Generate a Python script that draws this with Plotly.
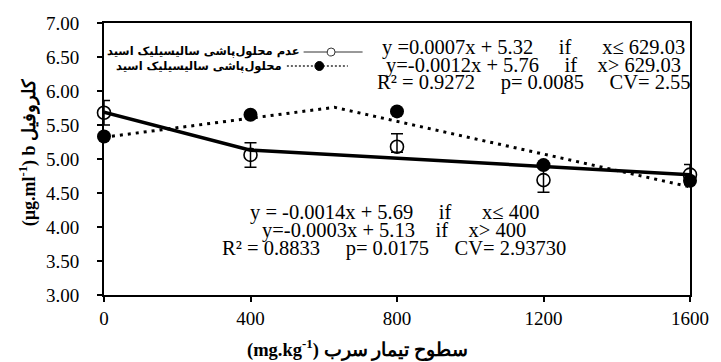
import plotly.graph_objects as go

# ---- data ----
lead_levels = [0, 400, 800, 1200, 1600]
no_sa_mean = [5.68, 5.06, 5.18, 4.69, 4.77]
no_sa_err_plus = [0.18, 0.18, 0.19, 0.18, 0.15]
no_sa_err_minus = [0.18, 0.18, 0.08, 0.18, 0.15]
sa_mean = [5.33, 5.65, 5.70, 4.91, 4.68]

fit_no_sa_x = [0, 400, 1600]
fit_no_sa_y = [5.69, 5.13, 4.77]
fit_sa_x = [0, 629.03, 1600]
fit_sa_y = [5.32, 5.76, 4.59]

x_ticks = [0, 400, 800, 1200, 1600]
y_ticks = [3.0, 3.5, 4.0, 4.5, 5.0, 5.5, 6.0, 6.5, 7.0]

legend_labels = ["عدم محلول‌پاشی سالیسیلیک اسید", "محلول‌پاشی سالیسیلیک اسید"]
eq_sa = ["y =0.0007x + 5.32{s}if{s2}x≤ 629.03",
         "y=-0.0012x + 5.76{s}if{s3}x> 629.03",
         "R² = 0.9272{s}p= 0.0085{s}CV= 2.55"]
eq_no_sa = ["y = -0.0014x + 5.69{s}if{s2}x≤ 400",
            "y=-0.0003x + 5.13{s3}if{s3}x> 400",
            "R² = 0.8833{s}p= 0.0175{s}CV= 2.93730"]

W, H = 721, 362
L, R, T, B = 104, 21, 23, 67
PW, PH = W - L - R, H - T - B


def px(x):
    return (x - L) / PW


def py(y):
    return (H - B - y) / PH


SERIF = "Liberation Serif"
ARAB = "DejaVu Sans"
NB = "\u00a0"

fig = go.Figure()

fig.add_trace(go.Scatter(x=fit_no_sa_x, y=fit_no_sa_y, mode="lines",
                         line=dict(color="black", width=3.5), cliponaxis=False,
                         showlegend=False, hoverinfo="skip"))
fig.add_trace(go.Scatter(x=fit_sa_x, y=fit_sa_y, mode="lines",
                         line=dict(color="black", width=3, dash="3px,5px"),
                         cliponaxis=False, showlegend=False, hoverinfo="skip"))
fig.add_trace(go.Scatter(x=lead_levels, y=no_sa_mean, mode="markers",
                         marker=dict(symbol="circle-open", size=13, color="black",
                                     line=dict(width=1.6, color="black")),
                         error_y=dict(type="data", symmetric=False, array=no_sa_err_plus,
                                      arrayminus=no_sa_err_minus, color="black",
                                      thickness=1.5, width=6),
                         cliponaxis=False, showlegend=False))
fig.add_trace(go.Scatter(x=lead_levels, y=sa_mean, mode="markers",
                         marker=dict(symbol="circle", size=14, color="black"),
                         cliponaxis=False, showlegend=False))

axis_common = dict(showline=True, linecolor="black", linewidth=2, mirror=True,
                   ticks="outside", ticklen=5, tickwidth=1.5, tickcolor="black",
                   showgrid=False, zeroline=False,
                   tickfont=dict(family=SERIF, size=19, color="black"))

fig.update_xaxes(range=[0, 1600], tickvals=x_ticks, ticktext=[str(v) for v in x_ticks],
                 ticklabelstandoff=0, **axis_common)
fig.update_yaxes(range=[3, 7], tickvals=y_ticks, ticktext=[f"{v:.2f}" for v in y_ticks],
                 ticklabelstandoff=14, **axis_common)

annotations = []
EQ_SIZE = 20.5
up_y = [47, 65, 82]
for txt, yy in zip(eq_sa, up_y):
    t = txt.format(s=NB * 5, s2=NB * 6, s3=NB * 4)
    annotations.append(dict(x=px(541), y=py(yy), xref="paper", yref="paper", text=t,
                            showarrow=False, xanchor="center", yanchor="middle",
                            font=dict(family=SERIF, size=EQ_SIZE, color="black")))
lo_y = [212, 230, 248]
for txt, yy in zip(eq_no_sa, lo_y):
    t = txt.format(s=NB * 5, s2=NB * 6, s3=NB * 4)
    annotations.append(dict(x=px(399), y=py(yy), xref="paper", yref="paper", text=t,
                            showarrow=False, xanchor="center", yanchor="middle",
                            font=dict(family=SERIF, size=EQ_SIZE, color="black")))

# legend texts
annotations.append(dict(x=px(305), y=py(52), xref="paper", yref="paper", text=legend_labels[0],
                        showarrow=False, xanchor="right", yanchor="middle",
                        font=dict(family=ARAB, size=11.5, color="black", weight="bold")))
annotations.append(dict(x=px(287), y=py(66), xref="paper", yref="paper", text=legend_labels[1],
                        showarrow=False, xanchor="right", yanchor="middle",
                        font=dict(family=ARAB, size=11.5, color="black", weight="bold")))

# axis titles
annotations.append(dict(x=px(362), y=py(348), xref="paper", yref="paper",
                        text="(mg.kg<sup>-1</sup>) سطوح تیمار سرب",
                        showarrow=False, xanchor="center", yanchor="middle",
                        font=dict(family=SERIF, size=18.5, color="black", weight="bold")))
annotations.append(dict(x=px(27), y=py(153), xref="paper", yref="paper",
                        text="(µg.ml<sup>-1</sup>) b کلروفیل", textangle=-90,
                        showarrow=False, xanchor="center", yanchor="middle",
                        font=dict(family=SERIF, size=18, color="black", weight="bold")))

shapes = [
    dict(type="line", xref="paper", yref="paper", x0=px(307), x1=px(367), y0=py(52), y1=py(52),
         line=dict(color="#333333", width=1)),
    dict(type="circle", xref="paper", yref="paper", x0=px(331), x1=px(339), y0=py(48), y1=py(56),
         line=dict(color="#333333", width=1), fillcolor="white"),
    dict(type="line", xref="paper", yref="paper", x0=px(290), x1=px(352), y0=py(66), y1=py(66),
         line=dict(color="#333333", width=1.5, dash="2px,2px")),
    dict(type="circle", xref="paper", yref="paper", x0=px(318.5), x1=px(327.5), y0=py(61.5), y1=py(70.5),
         line=dict(color="black", width=1), fillcolor="black"),
]

fig.update_layout(width=W, height=H, margin=dict(l=L, r=R, t=T, b=B),
                  paper_bgcolor="white", plot_bgcolor="white",
                  annotations=annotations, shapes=shapes, showlegend=False)

fig.write_html("out.html")
